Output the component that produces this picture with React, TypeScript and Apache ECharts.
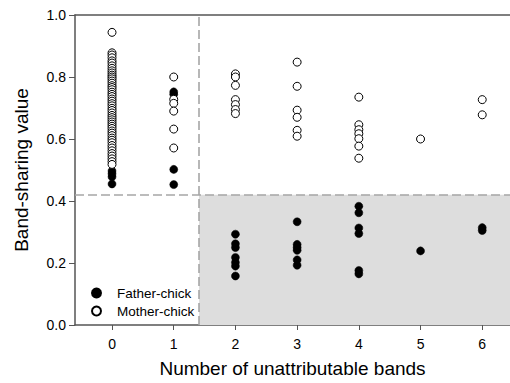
import React, { useEffect, useRef } from "react";
import * as echarts from "echarts";

const bandCounts = [0, 1, 2, 3, 4, 5, 6];
const xTickLabels = ["0", "1", "2", "3", "4", "5", "6"];
const yTickValues = [0, 0.2, 0.4, 0.6, 0.8, 1.0];

const fatherChick: number[][] = [
  [0.497, 0.488, 0.478, 0.455],
  [0.752, 0.744, 0.502, 0.453],
  [0.293, 0.262, 0.25, 0.218, 0.202, 0.19, 0.158],
  [0.333, 0.26, 0.25, 0.241, 0.21, 0.193],
  [0.383, 0.362, 0.313, 0.295, 0.176, 0.165],
  [0.239],
  [0.314, 0.305],
];

const motherChick: number[][] = [
  [0.944, 0.878, 0.871, 0.862, 0.852, 0.845, 0.836, 0.828, 0.82, 0.813, 0.806, 0.8, 0.794, 0.787,
   0.78, 0.772, 0.766, 0.759, 0.751, 0.744, 0.737, 0.729, 0.722, 0.714, 0.707, 0.699, 0.692, 0.684,
   0.676, 0.669, 0.662, 0.655, 0.648, 0.641, 0.634, 0.626, 0.619, 0.611, 0.603, 0.596, 0.588, 0.579,
   0.571, 0.562, 0.553, 0.545, 0.536, 0.527, 0.518],
  [0.8, 0.728, 0.715, 0.69, 0.632, 0.571],
  [0.81, 0.8, 0.773, 0.727, 0.711, 0.695, 0.682],
  [0.848, 0.77, 0.693, 0.67, 0.628, 0.609],
  [0.735, 0.646, 0.63, 0.617, 0.601, 0.577, 0.538],
  [0.6],
  [0.727, 0.678],
];

const thresholdX = 1.41;
const thresholdY = 0.42;
const xMin = -0.6;
const xMax = 6.45;

function toPoints(groups: number[][]): number[][] {
  const pts: number[][] = [];
  groups.forEach((vals, i) => vals.forEach((v) => pts.push([bandCounts[i], v])));
  return pts;
}

const FONT = "'Liberation Sans', Arial, Helvetica, sans-serif";

export default function App() {
  const ref = useRef<HTMLDivElement>(null);
  useEffect(() => {
    if (!ref.current) return;
    const chart = echarts.init(ref.current, null, { renderer: "svg" });
    const axisLine = { show: true, onZero: false, lineStyle: { color: "#555", width: 1.5 } };
    chart.setOption({
      animation: false,
      backgroundColor: "#fff",
      textStyle: { fontFamily: FONT },
      grid: { left: 75, right: 0, top: 15, bottom: 57 },
      legend: {
        left: 86,
        top: 281,
        orient: "vertical",
        itemWidth: 9,
        itemHeight: 9,
        itemGap: 4,
        textStyle: { fontFamily: FONT, fontSize: 13.5, color: "#000", lineHeight: 14, padding: [0, 0, 0, 11] },
        data: ["Father-chick", "Mother-chick"],
      },
      xAxis: [
        {
          type: "value",
          min: xMin,
          max: xMax,
          position: "bottom",
          axisLine,
          splitLine: { show: false },
          axisTick: { show: true, length: 5, lineStyle: { color: "#555" }, customValues: bandCounts },
          axisLabel: {
            customValues: bandCounts,
            formatter: (v: number) => xTickLabels[bandCounts.indexOf(Math.round(v))] ?? "",
            fontSize: 14,
            color: "#000",
            margin: 12,
            fontFamily: FONT,
          },
          name: "Number of unattributable bands",
          nameLocation: "middle",
          nameGap: 34,
          nameTextStyle: { fontSize: 19, color: "#000", fontFamily: FONT },
        },
        {
          type: "value",
          min: xMin,
          max: xMax,
          position: "top",
          axisLine,
          axisTick: { show: false },
          axisLabel: { show: false },
          splitLine: { show: false },
        },
      ],
      yAxis: {
        type: "value",
        min: 0,
        max: 1,
        interval: 0.2,
        axisLine,
        splitLine: { show: false },
        axisTick: { show: true, length: 6, lineStyle: { color: "#555" } },
        axisLabel: {
          formatter: (v: number) => (yTickValues.some((t) => Math.abs(t - v) < 1e-6) ? v.toFixed(1) : ""),
          fontSize: 14,
          color: "#000",
          margin: 9,
          fontFamily: FONT,
        },
        name: "Band-sharing value",
        nameLocation: "middle",
        nameGap: 44,
        nameTextStyle: { fontSize: 19, color: "#000", fontFamily: FONT },
      },
      series: [
        {
          type: "scatter",
          name: "_region",
          xAxisIndex: 0,
          data: [],
          silent: true,
          z: 1,
          markArea: {
            silent: true,
            itemStyle: { color: "#dddddd" },
            data: [[{ coord: [thresholdX, 0] }, { coord: [xMax, thresholdY] }]],
          },
          markLine: {
            silent: true,
            symbol: ["none", "none"],
            label: { show: false },
            lineStyle: { color: "#a6a6a6", width: 1.6, type: [9, 4] },
            data: [{ xAxis: thresholdX }, { yAxis: thresholdY }],
          },
        },
        {
          type: "scatter",
          name: "Father-chick",
          xAxisIndex: 0,
          symbol: "circle",
          symbolSize: 8,
          itemStyle: { color: "#000", borderColor: "#000", borderWidth: 0.5, opacity: 1 },
          data: toPoints(fatherChick),
          z: 3,
        },
        {
          type: "scatter",
          name: "Mother-chick",
          xAxisIndex: 0,
          symbol: "circle",
          symbolSize: 8,
          itemStyle: { color: "#fff", borderColor: "#000", borderWidth: 1, opacity: 1 },
          data: toPoints(motherChick),
          z: 4,
        },
      ],
    });
    return () => chart.dispose();
  }, []);
  return (
    <div
      ref={ref}
      style={{ position: "fixed", left: 0, top: 0, width: 510, height: 383, background: "#fff" }}
    />
  );
}
